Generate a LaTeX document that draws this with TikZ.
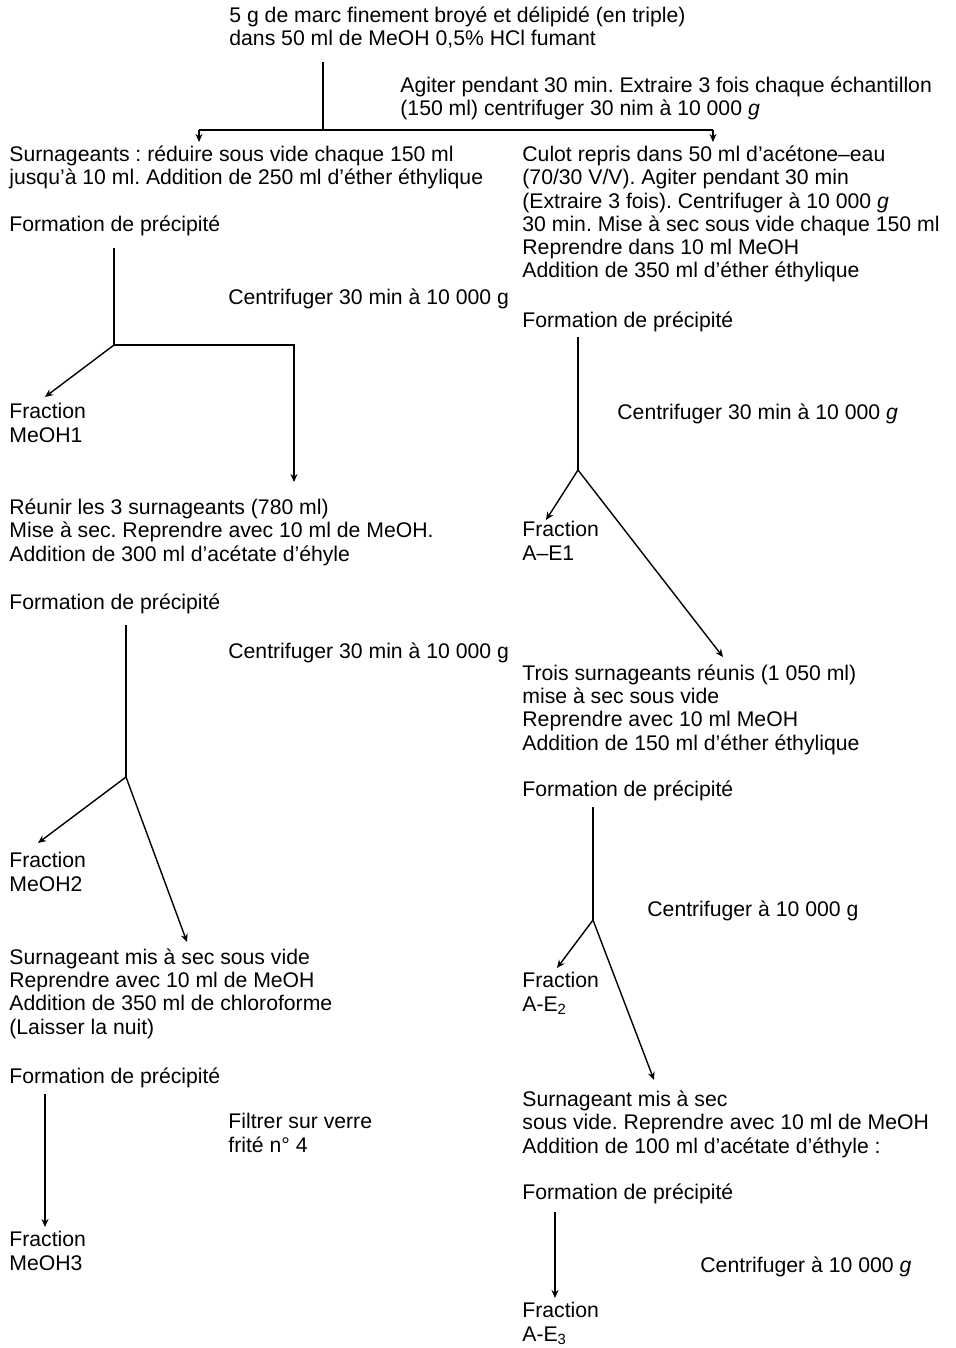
\documentclass[tikz,border=0pt]{standalone}
\usepackage{fontspec}
\setmainfont{Liberation Sans}
\usetikzlibrary{arrows.meta}
\frenchspacing

% multi-line texts are placed at the baseline of their last line
\tikzset{
  txt/.style={anchor=base west, inner sep=0pt, align=left,
    font=\fontsize{10.6}{11.65}\selectfont},
  flow/.style={line width=0.7pt},
}

\begin{document}
\begin{tikzpicture}[x=0.5pt, y=-0.5pt, >={Stealth[length=4pt,width=3.5pt]}]
        \useasboundingbox (0,0) rectangle (955,1348);

        % Starting material
        \node[txt] (start) at (229,46) {5 g de marc finement broyé et délipidé (en triple)\\dans 50 ml de MeOH 0,5\% HCl fumant};
        \node[txt] (agit) at (400,116) {Agiter pendant 30 min. Extraire 3 fois chaque échantillon\\(150 ml) centrifuger 30 nim à 10 000 \textit{g}};

        % Left column
        \node[txt] (surn) at (9,185) {Surnageants : réduire sous vide chaque 150 ml\\jusqu'à 10 ml. Addition de 250 ml d'éther éthylique};
        \node[txt] (formA) at (9,232) {Formation de précipité};
        \node[txt] (centA) at (228,304) {Centrifuger 30 min à 10 000 g};
        \node[txt] (meoh1) at (9,442) {Fraction\\MeOH1};
        \node[txt] (reun) at (9,561) {Réunir les 3 surnageants (780 ml)\\Mise à sec. Reprendre avec 10 ml de MeOH.\\Addition de 300 ml d'acétate d'éhyle};
        \node[txt] (formB) at (9,609) {Formation de précipité};
        \node[txt] (centB) at (228,658) {Centrifuger 30 min à 10 000 g};
        \node[txt] (meoh2) at (9,891) {Fraction\\MeOH2};
        \node[txt] (chlo) at (9,1034) {Surnageant mis à sec sous vide\\Reprendre avec 10 ml de MeOH\\Addition de 350 ml de chloroforme\\(Laisser la nuit)};
        \node[txt] (formC) at (9,1083) {Formation de précipité};
        \node[txt] (filt) at (228,1152) {Filtrer sur verre\\frité n° 4};
        \node[txt] (meoh3) at (9,1270) {Fraction\\MeOH3};

        % Right column
        \node[txt] (culot) at (522,278) {Culot repris dans 50 ml d'acétone–eau\\(70/30 V/V). Agiter pendant 30 min\\(Extraire 3 fois). Centrifuger à 10 000 \textit{g}\\30 min. Mise à sec sous vide chaque 150 ml\\Reprendre dans 10 ml MeOH\\Addition de 350 ml d'éther éthylique};
        \node[txt] (formD) at (522,327) {Formation de précipité};
        \node[txt] (centD) at (617,419) {Centrifuger 30 min à 10 000 \textit{g}};
        \node[txt] (ae1) at (522,560) {Fraction\\A–E1};
        \node[txt] (trois) at (522,750) {Trois surnageants réunis (1 050 ml)\\mise à sec sous vide\\Reprendre avec 10 ml MeOH\\Addition de 150 ml d'éther éthylique};
        \node[txt] (formE) at (522,796) {Formation de précipité};
        \node[txt] (centE) at (647,916) {Centrifuger à 10 000 g};
        \node[txt] (ae2) at (522,1011) {Fraction\\A-E\textsubscript{2}};
        \node[txt] (acet) at (522,1153) {Surnageant mis à sec\\sous vide. Reprendre avec 10 ml de MeOH\\Addition de 100 ml d'acétate d'éthyle :};
        \node[txt] (formF) at (522,1199) {Formation de précipité};
        \node[txt] (centF) at (700,1272) {Centrifuger à 10 000 \textit{g}};
        \node[txt] (ae3) at (522,1341) {Fraction\\A-E\textsubscript{3}};

        % Branch points and arrow ends
        \coordinate (top) at (323,62);
        \coordinate (split) at (323,130);
        \coordinate (splitL) at (199,130);
        \coordinate (splitR) at (713,130);
        \coordinate (tA) at (114,248);
        \coordinate (jA) at (114,345);
        \coordinate (kA) at (294,345);
        \coordinate (tB) at (126,625);
        \coordinate (jB) at (126,777);
        \coordinate (tC) at (45,1094);
        \coordinate (tD) at (578,337);
        \coordinate (jD) at (578,470);
        \coordinate (tE) at (593,807);
        \coordinate (jE) at (593,920);
        \coordinate (tF) at (555,1212);

        % First split
        \draw[flow] (top) -- (split);
        \draw[flow] (splitL) -- (splitR);
        \draw[flow, ->] (splitL) -- (199,142);
        \draw[flow, ->] (splitR) -- (713,142);

        % Left branches
        \draw[flow] (tA) -- (jA);
        \draw[flow, ->] (jA) -- (45,397);
        \draw[flow, ->] (jA) -- (kA) -- (294,482);
        \draw[flow] (tB) -- (jB);
        \draw[flow, ->] (jB) -- (38,843);
        \draw[flow, ->] (jB) -- (187,942);
        \draw[flow, ->] (tC) -- (45,1227);

        % Right branches
        \draw[flow] (tD) -- (jD);
        \draw[flow, ->] (jD) -- (546,520);
        \draw[flow, ->] (jD) -- (723,657);
        \draw[flow] (tE) -- (jE);
        \draw[flow, ->] (jE) -- (557,968);
        \draw[flow, ->] (jE) -- (654,1080);
        \draw[flow, ->] (tF) -- (555,1298);

\end{tikzpicture}
\end{document}
